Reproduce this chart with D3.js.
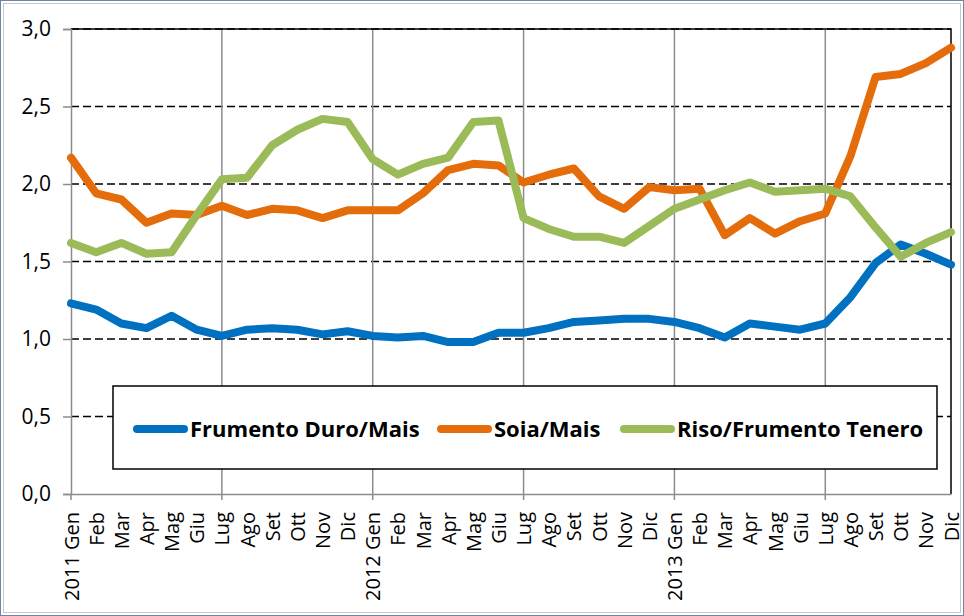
<!DOCTYPE html>
<html>
<head>
<meta charset="utf-8">
<script src="https://cdn.jsdelivr.net/npm/d3@7"></script>
<style>
  body { margin: 0; background: #fff; }
  text { font-family: "Open Sans", sans-serif; fill: #000; }
</style>
</head>
<body>
<script>
// Category labels (monthly, Jan 2011 - Dec 2013)
const categories = [
  "2011 Gen", "Feb", "Mar", "Apr", "Mag", "Giu", "Lug", "Ago", "Set", "Ott", "Nov", "Dic",
  "2012 Gen", "Feb", "Mar", "Apr", "Mag", "Giu", "Lug", "Ago", "Set", "Ott", "Nov", "Dic",
  "2013 Gen", "Feb", "Mar", "Apr", "Mag", "Giu", "Lug", "Ago", "Set", "Ott", "Nov", "Dic"
];

// Series values
const frumentoDuroMais = [
  1.23, 1.19, 1.10, 1.07, 1.15, 1.06, 1.02, 1.06, 1.07, 1.06, 1.03, 1.05,
  1.02, 1.01, 1.02, 0.98, 0.98, 1.04, 1.04, 1.07, 1.11, 1.12, 1.13, 1.13,
  1.11, 1.07, 1.01, 1.10, 1.08, 1.06, 1.10, 1.27, 1.49, 1.61, 1.55, 1.48
];
const soiaMais = [
  2.17, 1.94, 1.90, 1.75, 1.81, 1.80, 1.86, 1.80, 1.84, 1.83, 1.78, 1.83,
  1.83, 1.83, 1.94, 2.09, 2.13, 2.12, 2.01, 2.06, 2.10, 1.92, 1.84, 1.98,
  1.96, 1.97, 1.67, 1.78, 1.68, 1.76, 1.81, 2.18, 2.69, 2.71, 2.78, 2.88
];
const risoFrumentoTenero = [
  1.62, 1.56, 1.62, 1.55, 1.56, 1.80, 2.03, 2.04, 2.25, 2.35, 2.42, 2.40,
  2.16, 2.06, 2.13, 2.17, 2.40, 2.41, 1.78, 1.71, 1.66, 1.66, 1.62, 1.73,
  1.84, 1.90, 1.96, 2.01, 1.95, 1.96, 1.97, 1.92, 1.72, 1.53, 1.62, 1.69
];

const seriesNames = ["Frumento Duro/Mais", "Soia/Mais", "Riso/Frumento Tenero"];
const seriesColors = ["#0070C0", "#E46C0A", "#9BBB59"];
const yTicks = [0, 0.5, 1.0, 1.5, 2.0, 2.5, 3.0];

// SVG area and margins
const svgWidth = 964;
const svgHeight = 616;
const margin = { top: 29, right: 13, bottom: 122, left: 71 };
const chartWidth = svgWidth - margin.left - margin.right;
const chartHeight = svgHeight - margin.top - margin.bottom;

let svg = d3.select("body")
  .append("svg")
  .attr("width", svgWidth)
  .attr("height", svgHeight);

// outer frame
svg.append("rect")
  .attr("x", 0.5).attr("y", 0.5)
  .attr("width", svgWidth - 1).attr("height", svgHeight - 1)
  .attr("fill", "none")
  .attr("stroke", "#6f82a8");
svg.append("rect")
  .attr("x", 3.5).attr("y", 3.5)
  .attr("width", svgWidth - 7).attr("height", svgHeight - 7)
  .attr("fill", "none")
  .attr("stroke", "#c8c8c8");

let chartGroup = svg.append("g")
  .attr("transform", `translate(${margin.left}, ${margin.top})`);

let xScale = d3.scaleLinear()
  .domain([0, categories.length - 1])
  .range([0, chartWidth]);

let yScale = d3.scaleLinear()
  .domain([0, 3])
  .range([chartHeight, 0]);

const fmt = d => d3.format(".1f")(d).replace(".", ",");

// horizontal dashed gridlines
chartGroup.append("g")
  .selectAll("line")
  .data(yTicks.filter(d => d > 0))
  .join("line")
  .attr("x1", 0).attr("x2", chartWidth)
  .attr("y1", d => yScale(d)).attr("y2", d => yScale(d))
  .attr("stroke", "#000")
  .attr("stroke-width", 1.3)
  .attr("stroke-dasharray", "8,4");

// vertical gridlines every six months
const majorIdx = d3.range(6, categories.length, 6);
chartGroup.append("g")
  .selectAll("line")
  .data(majorIdx)
  .join("line")
  .attr("x1", d => xScale(d)).attr("x2", d => xScale(d))
  .attr("y1", 0).attr("y2", chartHeight)
  .attr("stroke", "#8c8c8c")
  .attr("stroke-width", 1.5);

// plot border top and right
chartGroup.append("path")
  .attr("d", `M0,0H${chartWidth}V${chartHeight}`)
  .attr("fill", "none")
  .attr("stroke", "#000")
  .attr("stroke-width", 1.5);

// y axis
let leftAxis = d3.axisLeft(yScale)
  .tickValues(yTicks)
  .tickFormat(fmt)
  .tickSize(8)
  .tickPadding(12);
let yAxisG = chartGroup.append("g").call(leftAxis);
yAxisG.select(".domain").attr("stroke", "#8c8c8c").attr("stroke-width", 1.5);
yAxisG.selectAll(".tick line").attr("stroke", "#8c8c8c").attr("stroke-width", 1.5);
yAxisG.selectAll(".tick text")
  .style("font-family", "Open Sans")
  .style("font-size", "21px")
  .attr("fill", "#000");

// x axis
let bottomAxis = d3.axisBottom(xScale)
  .tickValues(d3.range(categories.length))
  .tickFormat(i => categories[i])
  .tickSize(0)
  .tickSizeOuter(0);
let xAxisG = chartGroup.append("g")
  .attr("transform", `translate(0, ${chartHeight})`)
  .call(bottomAxis);
xAxisG.select(".domain").attr("stroke", "#8c8c8c").attr("stroke-width", 1.5);
xAxisG.selectAll(".tick text")
  .style("font-family", "Open Sans")
  .style("font-size", "20px")
  .attr("fill", "#000")
  .attr("text-anchor", "end")
  .attr("transform", "rotate(-90)")
  .attr("x", -18)
  .attr("y", 0)
  .attr("dy", "0.35em");
// major tick marks below the axis
xAxisG.append("g")
  .selectAll("line")
  .data(d3.range(0, categories.length, 6))
  .join("line")
  .attr("x1", d => xScale(d)).attr("x2", d => xScale(d))
  .attr("y1", 0).attr("y2", 6)
  .attr("stroke", "#8c8c8c")
  .attr("stroke-width", 1.5);

// series lines
const allSeries = [frumentoDuroMais, soiaMais, risoFrumentoTenero];
let createLine = d3.line()
  .x((d, i) => xScale(i))
  .y(d => yScale(d));

chartGroup.append("g")
  .selectAll("path")
  .data(allSeries)
  .join("path")
  .attr("d", d => createLine(d))
  .attr("fill", "none")
  .attr("stroke", (d, i) => seriesColors[i])
  .attr("stroke-width", 8)
  .attr("stroke-linejoin", "round")
  .attr("stroke-linecap", "round");

// legend
let legend = svg.append("g");
legend.append("rect")
  .attr("x", 113).attr("y", 386)
  .attr("width", 824).attr("height", 83)
  .attr("fill", "#fff")
  .attr("stroke", "#000")
  .attr("stroke-width", 1.5);

const legendX = [133, 437, 620];
const legendY = 429;
seriesNames.forEach((name, i) => {
  legend.append("line")
    .attr("x1", legendX[i] + 4).attr("x2", legendX[i] + 51)
    .attr("y1", legendY).attr("y2", legendY)
    .attr("stroke", seriesColors[i])
    .attr("stroke-width", 8)
    .attr("stroke-linecap", "round");
  legend.append("text")
    .attr("x", legendX[i] + 57)
    .attr("y", legendY + 8)
    .style("font-family", "Open Sans")
    .style("font-size", "22px")
    .style("font-weight", "bold")
    .text(name);
});
</script>
</body>
</html>
